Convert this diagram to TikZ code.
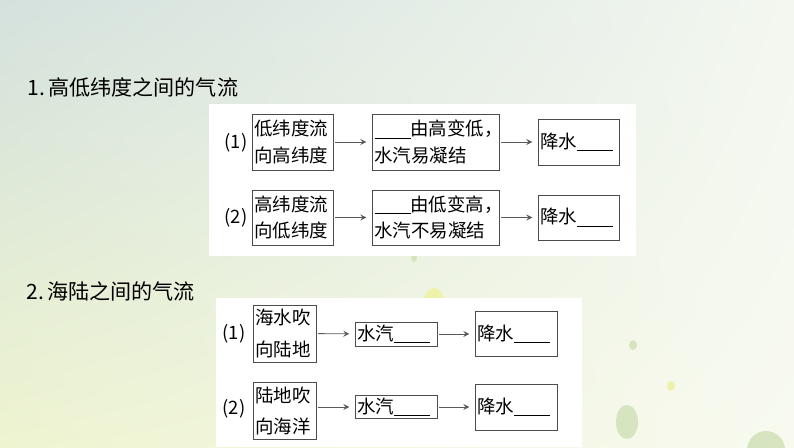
\documentclass[tikz,border=0pt]{standalone}
\usepackage{fontspec}
\setmainfont{Noto Sans CJK SC}
\usetikzlibrary{arrows,shadings}

\definecolor{bgtl}{RGB}{212,225,221}
\definecolor{bgtr}{RGB}{243,247,240}
\definecolor{bgbl}{RGB}{238,244,208}
\definecolor{bgbr}{RGB}{248,250,240}
\definecolor{dotgreen}{RGB}{214,228,192}
\definecolor{dotyellow}{RGB}{238,242,168}

\newcommand{\blank}{\rule[-1.5pt]{0.72cm}{0.4pt}}

\tikzset{
	box/.style={draw=black!70, line width=0.5pt, inner xsep=0.05cm, inner ysep=0pt, align=left},
	flow/.style={draw=black!65, line width=0.5pt, -stealth, shorten <=1pt, shorten >=3pt},
	heading/.style={anchor=west, inner sep=0pt, font=\fontsize{12}{14}\selectfont},
	num/.style={inner sep=0pt},
	rowa/.style={font=\fontsize{10.5}{15.3}\selectfont},
	rowb/.style={font=\fontsize{10.5}{18}\selectfont}
}

\begin{document}
\begin{tikzpicture}[x=0.02cm,y=-0.02cm]
	\useasboundingbox (0,0) rectangle (794,447);
	\shade[upper left=bgtl, upper right=bgtr, lower left=bgbl, lower right=bgbr] (0,0) rectangle (794,447);
	% dots
	\fill[dotgreen] (414,258) ellipse (3 and 4);
	\fill[dotyellow] (434,302) ellipse (10 and 14);
	\fill[dotgreen] (633,345) ellipse (4 and 5);
	\fill[dotyellow] (671,386) ellipse (4 and 5);
	\fill[dotgreen] (627,422) ellipse (11 and 17);
	\fill[dotgreen] (766,450) circle (19);
	% panels
	\fill[white] (209,104) rectangle (636,256);
	\fill[white] (216,298) rectangle (582,447);

	\node[heading] (t1) at (27,87) {1.\,高低纬度之间的气流};
	\begin{scope}[rowa]
		\node[num] (n1) at (236,143) {(1)};
		\node[box, text width=1.52cm, minimum height=1.12cm] (a1) at (292.5,142) {低纬度流\\向高纬度};
		\node[box, text width=2.44cm, minimum height=1.12cm] (b1) at (435.5,142) {\blank 由高变低\makebox[0.5em][l]{，}\\水汽易凝结};
		\node[box, text width=1.52cm, minimum height=0.92cm] (c1) at (578.5,142) {降水\blank};
		\node[num] (n2) at (236,218) {(2)};
		\node[box, text width=1.52cm, minimum height=1.1cm] (a2) at (292.5,217.5) {高纬度流\\向低纬度};
		\node[box, text width=2.44cm, minimum height=1.1cm] (b2) at (435.5,217.5) {\blank 由低变高\makebox[0.5em][l]{，}\\水汽不易凝结};
		\node[box, text width=1.52cm, minimum height=0.9cm] (c2) at (578.5,217.5) {降水\blank};
	\end{scope}
	\draw[flow] (a1) -- (b1);
	\draw[flow] (b1) -- (c1);
	\draw[flow] (a2) -- (b2);
	\draw[flow] (b2) -- (c2);

	\node[heading] (t2) at (26,291) {2.\,海陆之间的气流};
	\begin{scope}[rowb]
		\node[num] (m1) at (234,334) {(1)};
		\node[box, text width=1.16cm, minimum height=1.14cm] (d1) at (284.5,333.5) {海水吹\\向陆地};
		\node[box, text width=1.54cm, minimum height=0.48cm] (e1) at (396,334) {水汽\blank};
		\node[box, text width=1.54cm, minimum height=0.9cm] (f1) at (516,334) {降水\blank};
		\node[num] (m2) at (234,409) {(2)};
		\node[box, text width=1.16cm, minimum height=1.14cm] (d2) at (284.5,411) {陆地吹\\向海洋};
		\node[box, text width=1.54cm, minimum height=0.46cm] (e2) at (396,407) {水汽\blank};
		\node[box, text width=1.54cm, minimum height=0.92cm] (f2) at (516,407) {降水\blank};
	\end{scope}
	\draw[flow] (d1) -- (e1);
	\draw[flow] (e1) -- (f1);
	\draw[flow] (d2.east |- e2.west) -- (e2.west);
	\draw[flow] (e2) -- (f2);
\end{tikzpicture}
\end{document}
